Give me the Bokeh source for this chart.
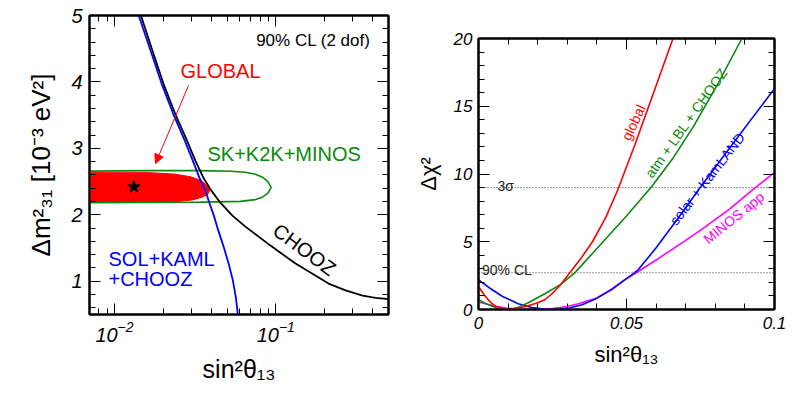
import math
from bokeh.plotting import figure
from bokeh.models import (FixedTicker, LinearAxis, LogAxis, Label, Arrow, NormalHead,
                          Range1d, CustomJSTickFormatter)
from bokeh.layouts import row
from bokeh.embed import file_html
from bokeh.resources import INLINE

FONT = "Liberation Sans"

# ---------------- left panel data: sin^2(theta13) vs dm^2_31 [1e-3 eV^2] ----------------
chooz_x = [0.0138, 0.01459, 0.01747, 0.02016, 0.02382, 0.02817, 0.03171, 0.03555, 0.03987,
           0.04535, 0.05383, 0.06483, 0.09271, 0.1326, 0.2125, 0.2710, 0.3455, 0.4159,
           0.5012, 0.52]
chooz_y = [5.15, 5.0, 4.42, 3.968, 3.517, 3.116, 2.815, 2.559, 2.364,
           2.183, 1.988, 1.823, 1.537, 1.266, 0.965, 0.863, 0.785, 0.750,
           0.732, 0.73]

solkam_x = [0.0135, 0.01413, 0.01702, 0.01964, 0.02315, 0.02729, 0.03059, 0.03358, 0.03659,
            0.03874, 0.04131, 0.04406, 0.04768, 0.05121, 0.05423, 0.05658, 0.05823, 0.0586]
solkam_y = [5.15, 5.0, 4.42, 3.968, 3.517, 3.116, 2.815, 2.559, 2.364,
            2.183, 1.988, 1.762, 1.507, 1.251, 1.011, 0.755, 0.499, 0.44]

global_x = [0.006, 0.01666, 0.02382, 0.02953, 0.03405, 0.03712, 0.03903, 0.03820, 0.03504,
            0.03038, 0.02382, 0.01666, 0.006]
global_y = [2.635, 2.635, 2.612, 2.574, 2.522, 2.454, 2.379, 2.319, 2.266,
            2.224, 2.198, 2.191, 2.191]

atm_x = [0.006, 0.01666, 0.03405, 0.05233, 0.06483, 0.07478, 0.08267, 0.08878, 0.09363,
         0.08943, 0.08267, 0.07478, 0.06036, 0.03405, 0.006, 0.006]
atm_y = [2.657, 2.665, 2.665, 2.657, 2.642, 2.612, 2.567, 2.507, 2.414,
         2.326, 2.266, 2.229, 2.203, 2.191, 2.183, 2.657]

best_x = [0.0132]
best_y = [2.42]

# ---------------- right panel data: sin^2(theta13) vs delta chi^2 ----------------
glob_s = [0, 0.002, 0.004, 0.006, 0.0088, 0.012, 0.016, 0.02, 0.0224, 0.025, 0.0278, 0.0315,
          0.035, 0.0385, 0.043, 0.047, 0.0529, 0.0603, 0.0657, 0.068]
glob_c = [1.70, 1.05, 0.55, 0.2, 0.0, 0.06, 0.22, 0.5, 0.72, 1.2, 1.85, 2.9,
          3.9, 5.0, 6.8, 8.8, 12.2, 16.7, 20.0, 21.5]

atmlbl_s = [0, 0.003, 0.006, 0.010, 0.013, 0.0168, 0.0224, 0.0278, 0.0326, 0.04, 0.05,
            0.0586, 0.0655, 0.0726, 0.081, 0.089, 0.091]
atmlbl_c = [0.72, 0.38, 0.12, 0.0, 0.12, 0.5, 1.16, 1.85, 2.72, 4.5, 6.9,
            9.1, 11.1, 13.5, 16.7, 20.0, 20.8]

solar_s = [0, 0.004, 0.008, 0.0134, 0.018, 0.022, 0.025, 0.03, 0.035, 0.0393, 0.045, 0.0495,
           0.0528, 0.054, 0.06, 0.067, 0.0749, 0.0875, 0.1]
solar_c = [2.19, 1.55, 0.98, 0.42, 0.14, 0.03, 0.0, 0.08, 0.35, 0.75, 1.5, 2.2,
           2.72, 2.95, 4.55, 6.6, 9.0, 12.7, 16.3]

minos_s = [0, 0.005, 0.01, 0.015, 0.02, 0.025, 0.03, 0.0337, 0.04, 0.045, 0.0495, 0.0546,
           0.06, 0.0648, 0.07, 0.076, 0.085, 0.0935, 0.1]
minos_c = [0.55, 0.27, 0.08, 0.0, 0.0, 0.07, 0.22, 0.42, 0.85, 1.45, 2.2, 2.9,
           3.65, 4.35, 5.1, 6.0, 7.45, 9.0, 10.1]

cl_levels = [9.0, 2.71]
cl_names = ["3\u03c3", "90% CL"]

# ---------------- geometry (page pixels) ----------------
L_LEFT, L_RIGHT, L_TOP, L_BOT = 89, 388, 15, 314
LX0, LX1, LY0, LY1 = 0.007, 0.5, 0.5, 5.0
R_LEFT, R_RIGHT, R_TOP, R_BOT = 478, 774, 38, 309
RX0, RX1, RY0, RY1 = 0.0, 0.1, 0.0, 20.0
W1, W2, H = 400, 400, 393


def lx(px):
    a, b = math.log10(LX0), math.log10(LX1)
    return 10 ** (a + (px - L_LEFT) / (L_RIGHT - L_LEFT) * (b - a))


def ly(py):
    return LY0 + (L_BOT - py) / (L_BOT - L_TOP) * (LY1 - LY0)


def rx(px):
    return RX0 + (px - R_LEFT) / (R_RIGHT - R_LEFT) * (RX1 - RX0)


def ry(py):
    return RY0 + (R_BOT - py) / (R_BOT - R_TOP) * (RY1 - RY0)


def txt(p, x, y, s, size, color="black", align="left", baseline="alphabetic",
        angle=0.0, style="normal"):
    p.add_layout(Label(x=x, y=y, text=s, text_font=FONT, text_font_size=f"{size}px",
                       text_color=color, text_align=align, text_baseline=baseline,
                       angle=angle, text_font_style=style))


def style_axis(ax, ticks, minor, size, labels=True, standoff=7):
    ax.ticker = FixedTicker(ticks=ticks, minor_ticks=minor)
    ax.major_tick_in = 11
    ax.major_tick_out = 0
    ax.minor_tick_in = 6
    ax.minor_tick_out = 0
    ax.axis_line_color = "black"
    ax.axis_line_width = 2
    ax.major_tick_line_color = "black"
    ax.minor_tick_line_color = "black"
    ax.major_tick_line_width = 1
    ax.minor_tick_line_width = 1
    if labels:
        ax.major_label_text_font = FONT
        ax.major_label_text_font_style = "italic"
        ax.major_label_text_font_size = f"{size}px"
        ax.major_label_text_color = "black"
        ax.major_label_standoff = standoff
    else:
        ax.formatter = CustomJSTickFormatter(code="return ''")
        ax.major_label_text_font_size = "0px"
        ax.major_label_standoff = 0


def style_title(ax, text, size, standoff):
    ax.axis_label = text
    ax.axis_label_text_font = FONT
    ax.axis_label_text_font_style = "normal"
    ax.axis_label_text_font_size = f"{size}px"
    ax.axis_label_text_color = "black"
    ax.axis_label_standoff = standoff


# ================= LEFT FIGURE =================
p1 = figure(width=W1, height=H, x_axis_type="log",
            x_range=Range1d(LX0, LX1), y_range=Range1d(LY0, LY1),
            output_backend="svg", toolbar_location=None, title=None,
            frame_align=False,
            min_border_left=L_LEFT, min_border_right=W1 - L_RIGHT,
            min_border_top=L_TOP, min_border_bottom=H - L_BOT)
p1.xgrid.grid_line_color = None
p1.ygrid.grid_line_color = None
p1.outline_line_color = "black"
p1.outline_line_width = 2
p1.background_fill_color = "white"
p1.border_fill_color = "white"

lx_major = [0.01, 0.1]
lx_minor = [0.007, 0.008, 0.009, 0.02, 0.03, 0.04, 0.05, 0.06, 0.07, 0.08, 0.09,
            0.2, 0.3, 0.4, 0.5]
ly_major = [1, 2, 3, 4, 5]
ly_minor = [0.6, 0.8, 1.2, 1.4, 1.6, 1.8, 2.2, 2.4, 2.6, 2.8, 3.2, 3.4, 3.6, 3.8,
            4.2, 4.4, 4.6, 4.8]

style_axis(p1.xaxis[0], lx_major, lx_minor, 20, labels=True, standoff=6)
style_axis(p1.yaxis[0], ly_major, ly_minor, 20, labels=True, standoff=7)
style_title(p1.xaxis[0], "sin\u00b2\u03b8\u2081\u2083", 25, 10)
style_title(p1.yaxis[0], "\u0394m\u00b2\u2083\u2081 [10\u207b\u00b3 eV\u00b2]", 26, 12)
ax_r1 = LinearAxis()
style_axis(ax_r1, ly_major, ly_minor, 20, labels=False)
p1.add_layout(ax_r1, "right")
ax_t1 = LogAxis()
style_axis(ax_t1, lx_major, lx_minor, 20, labels=False)
p1.add_layout(ax_t1, "above")

p1.patch(global_x, global_y, fill_color="#ff0000", line_color="#ff0000", line_width=1)
p1.line(atm_x, atm_y, line_color="#0a8a0a", line_width=1.6)
p1.line(chooz_x, chooz_y, line_color="black", line_width=1.8)
p1.line(solkam_x, solkam_y, line_color="#0000ff", line_width=1.8)
p1.scatter(best_x, best_y, marker="star", size=13, color="black")

p1.add_layout(Arrow(end=NormalHead(size=9, fill_color="#ff0000", line_color="#ff0000"),
                    x_start=lx(188), y_start=ly(85), x_end=lx(155), y_end=ly(163),
                    line_color="#ff0000", line_width=1))

txt(p1, lx(370), ly(40), "90% CL (2 dof)", 17, align="right", baseline="middle")
txt(p1, lx(220), ly(70), "GLOBAL", 20, color="#ff0000", align="center", baseline="middle")
txt(p1, lx(207), ly(153), "SK+K2K+MINOS", 20, color="#0a8a0a", baseline="middle")
txt(p1, lx(108), ly(258), "SOL+KAML", 20, color="#0000ff", baseline="middle")
txt(p1, lx(108), ly(278), "+CHOOZ", 20, color="#0000ff", baseline="middle")
txt(p1, lx(304), ly(249), "CHOOZ", 20, align="center", baseline="middle", angle=-0.64)

# ================= RIGHT FIGURE =================
p2 = figure(width=W2, height=H,
            x_range=Range1d(RX0, RX1), y_range=Range1d(RY0, RY1),
            output_backend="svg", toolbar_location=None, title=None,
            frame_align=False,
            min_border_left=R_LEFT - W1, min_border_right=W1 + W2 - R_RIGHT,
            min_border_top=R_TOP, min_border_bottom=H - R_BOT)
p2.xgrid.grid_line_color = None
p2.ygrid.grid_line_color = None
p2.outline_line_color = "black"
p2.outline_line_width = 2
p2.background_fill_color = "white"
p2.border_fill_color = "white"

rx_major = [0, 0.05, 0.1]
rx_minor = [0.01, 0.02, 0.03, 0.04, 0.06, 0.07, 0.08, 0.09]
ry_major = [0, 5, 10, 15, 20]
ry_minor = [1, 2, 3, 4, 6, 7, 8, 9, 11, 12, 13, 14, 16, 17, 18, 19]

style_axis(p2.xaxis[0], rx_major, rx_minor, 17, labels=True, standoff=7)
p2.xaxis[0].formatter = CustomJSTickFormatter(
    code="return tick == 0 ? '0' : (Math.abs(tick - 0.1) < 1e-9 ? '0.1' : tick.toFixed(2));")
style_axis(p2.yaxis[0], ry_major, ry_minor, 17, labels=True, standoff=6)
style_title(p2.xaxis[0], "sin\u00b2\u03b8\u2081\u2083", 22, 10)
style_title(p2.yaxis[0], "\u0394\u03c7\u00b2", 22, 10)
ax_r2 = LinearAxis()
style_axis(ax_r2, ry_major, ry_minor, 17, labels=False)
p2.add_layout(ax_r2, "right")
ax_t2 = LinearAxis()
style_axis(ax_t2, rx_major, rx_minor, 17, labels=False)
p2.add_layout(ax_t2, "above")

for lev in cl_levels:
    p2.line([RX0, RX1], [lev, lev], line_color="#333333", line_width=1, line_dash="1 2")

p2.line(minos_s, minos_c, line_color="#ff00ff", line_width=1.6)
p2.line(solar_s, solar_c, line_color="#0000ff", line_width=1.6)
p2.line(atmlbl_s, atmlbl_c, line_color="#0a8a0a", line_width=1.6)
p2.line(glob_s, glob_c, line_color="#ff0000", line_width=1.6)

txt(p2, rx(497), ry(185), cl_names[0], 14, color="#222222")
txt(p2, rx(481.5), ry(269.5), cl_names[1], 14, color="#222222")

txt(p2, rx(633), ry(122), "global", 14, color="#ff0000", align="center",
    baseline="middle", angle=math.radians(64.5))
txt(p2, rx(685.7), ry(122.3), "atm + LBL + CHOOZ", 14, color="#0a8a0a", align="center",
    baseline="middle", angle=math.radians(54.5))
txt(p2, rx(706.7), ry(178.3), "solar + KamLAND", 14, color="#0000ff", align="center",
    baseline="middle", angle=math.radians(52))
txt(p2, rx(733.3), ry(217.3), "MINOS app", 14, color="#ff00ff", align="center",
    baseline="middle", angle=math.radians(39))

layout = row(p1, p2)
open("out.html", "w").write(file_html(layout, INLINE))
